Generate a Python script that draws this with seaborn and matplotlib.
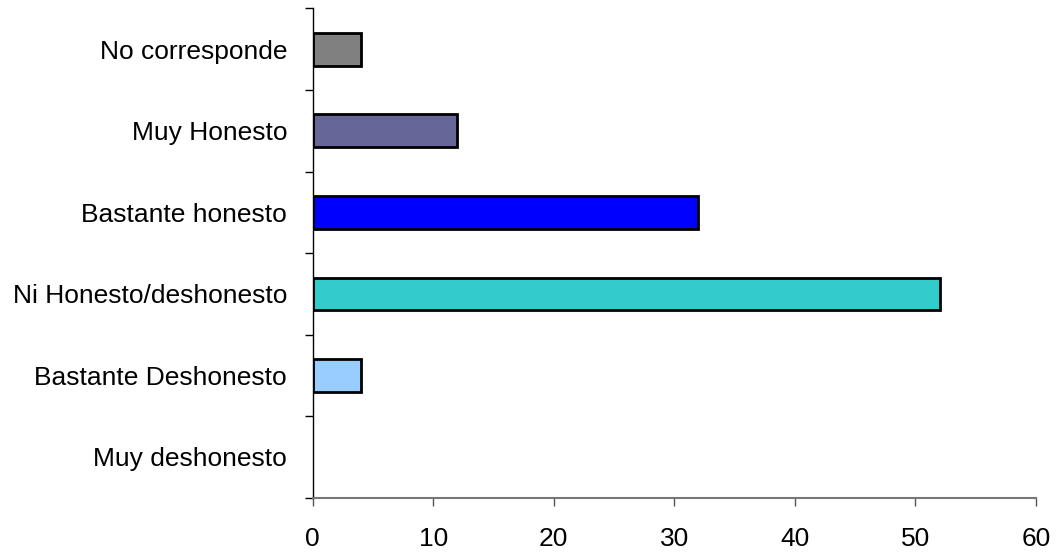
import matplotlib
matplotlib.use("Agg")
import matplotlib.pyplot as plt
import seaborn as sns
import pandas as pd
import numpy as np
from matplotlib.ticker import FixedLocator

categories = ["No corresponde", "Muy Honesto", "Bastante honesto",
              "Ni Honesto/deshonesto", "Bastante Deshonesto", "Muy deshonesto"]
values = [4, 12, 32, 52, 4, 0]
colors = ["#808080", "#666699", "#0000FF", "#33CCCC", "#99CCFF", "#993366"]
x_ticks = [0, 10, 20, 30, 40, 50, 60]

sns.set_style("white")
plt.rcParams["font.family"] = ["Liberation Sans", "DejaVu Sans"]
plt.rcParams["text.color"] = "black"
plt.rcParams["xtick.color"] = "black"
plt.rcParams["ytick.color"] = "black"

df = pd.DataFrame({"cat": categories, "val": values})

fig = plt.figure(figsize=(10.64, 5.54), dpi=100)
ax = fig.add_axes([0.2939, 0.1016, 0.9737 - 0.2939, 0.9847 - 0.1016])

sns.barplot(data=df, x="val", y="cat", hue="cat", palette=colors,
            order=categories, hue_order=categories, orient="h",
            width=0.4, edgecolor="black", linewidth=2.0, legend=False,
            saturation=1, ax=ax)

# hide outline of zero-length bars
for p in ax.patches:
    if p.get_width() == 0:
        p.set_linewidth(0)

ax.set_xlim(0, 60)
ax.set_ylim(5.5, -0.5)
ax.set_xticks(x_ticks)
ax.set_xlabel("")
ax.set_ylabel("")

for s in ["top", "right"]:
    ax.spines[s].set_visible(False)
ax.spines["left"].set_color("black")
ax.spines["left"].set_linewidth(1.0)
ax.spines["bottom"].set_color("#777777")
ax.spines["bottom"].set_linewidth(1.5)

ax.yaxis.set_minor_locator(FixedLocator(np.arange(-0.5, 6, 1.0)))
ax.tick_params(axis="y", which="major", length=0, pad=18.5, labelsize=19,
               labelcolor="black")
ax.tick_params(axis="y", which="minor", length=6, width=1.0, color="black",
               direction="out", left=True)
ax.tick_params(axis="x", which="major", length=6, width=1.0, color="#555555",
               direction="out", bottom=True, pad=15, labelsize=19,
               labelcolor="black")

fig.savefig("out.png", dpi=100, facecolor="white")
